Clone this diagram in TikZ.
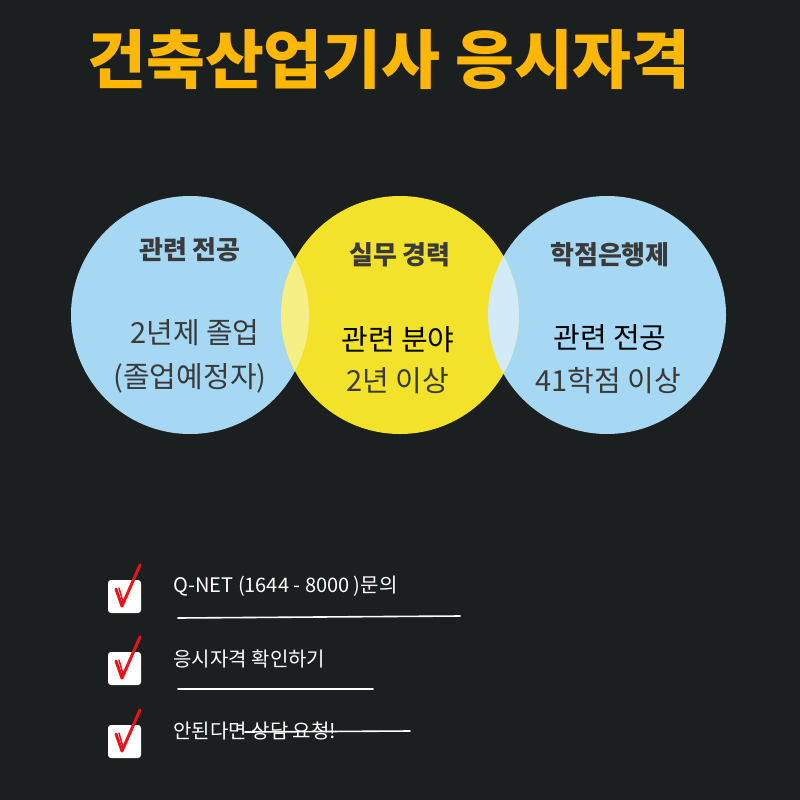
\documentclass[tikz,border=0pt]{standalone}
\usepackage{fontspec}
\setmainfont{Noto Sans CJK KR}
\begin{document}
\begin{tikzpicture}[x=1pt,y=-1pt,
  bg/.style={fill=bgc,draw=none},
  venn/.style={circle,minimum size=238pt,inner sep=0pt,draw=none},
  head/.style={font=\fontsize{26}{30}\selectfont\bfseries,text=darkt},
  body/.style={font=\fontsize{29}{33}\selectfont,text=darkt,align=center},
  chk/.style={fill=white,rounded corners=3pt,draw=none},
  item/.style={font=\fontsize{20}{24}\selectfont,text=white,anchor=west},
  uline/.style={draw=white,line width=1.6pt,line cap=round}]
\definecolor{bgc}{HTML}{1C1F1F}
\definecolor{titlec}{HTML}{FFB703}
\definecolor{bluec}{HTML}{A6D8F4}
\definecolor{yelc}{HTML}{F2E229}
\definecolor{ovly}{HTML}{F6EF86}
\definecolor{ovlb}{HTML}{D2EBF7}
\definecolor{darkt}{HTML}{3A3A3A}
\definecolor{redc}{HTML}{E8141B}
\path[bg] (0,0) rectangle (800,800);
\useasboundingbox (0,0) rectangle (800,800);
% title
\node[font=\fontsize{64}{68}\selectfont\bfseries,text=titlec] (title) at (389,60) {건축산업기사 응시자격};
% circles
\node[venn,fill=bluec] (cl) at (190,315) {};
\node[venn,fill=bluec] (cr) at (607,315) {};
\node[venn,fill=yelc] (cm) at (400,315) {};
\begin{scope}
  \clip (190,315) circle (119);
  \fill[ovly] (400,315) circle (119);
\end{scope}
\begin{scope}
  \clip (607,315) circle (119);
  \fill[ovlb] (400,315) circle (119);
\end{scope}
% texts
\node[head] (hl) at (190,250) {관련 전공};
\node[head] (hm) at (400,255) {실무 경력};
\node[head] (hr) at (610,255) {학점은행제};
\node[body] (bl1) at (195,333) {2년제 졸업};
\node[body] (bl2) at (190,378) {(졸업예정자)};
\node[body,text=black] (bm1) at (398,340) {관련 분야};
\node[body] (bm2) at (398,381) {2년 이상};
\node[body,text=black] (br1) at (610,338) {관련 전공};
\node[body] (br2) at (608,381) {41학점 이상};
% checklist
\foreach \i/\yy in {1/580,2/652,3/725}{
  \path[chk] (108,\yy) rectangle (141,\yy+33);
  \coordinate (ck\i a) at (116,\yy+9);
  \coordinate (ck\i b) at (122,\yy+26);
  \coordinate (ck\i c) at (140,\yy-15);
  \draw[redc,line width=3pt,line cap=round,line join=round] (ck\i a) -- (ck\i b) -- (ck\i c);
  \draw[redc,line width=1.5pt,line cap=round] (119,\yy+8) -- (123,\yy+22);
}
\node[item] (t1) at (170,586) {Q-NET (1644 - 8000 )문의};
\node[item] (t2) at (170,659) {응시자격 확인하기};
\node[item] (t3) at (170,731) {안된다면 상담 요청!};
\coordinate (u1a) at (178,618); \coordinate (u1b) at (460,616);
\coordinate (u2a) at (178,689); \coordinate (u2b) at (373,689);
\coordinate (u3a) at (245,732); \coordinate (u3b) at (410,731);
\draw[uline] (u1a) -- (u1b);
\draw[uline] (u2a) -- (u2b);
\draw[uline] (u3a) -- (u3b);
\end{tikzpicture}
\end{document}
